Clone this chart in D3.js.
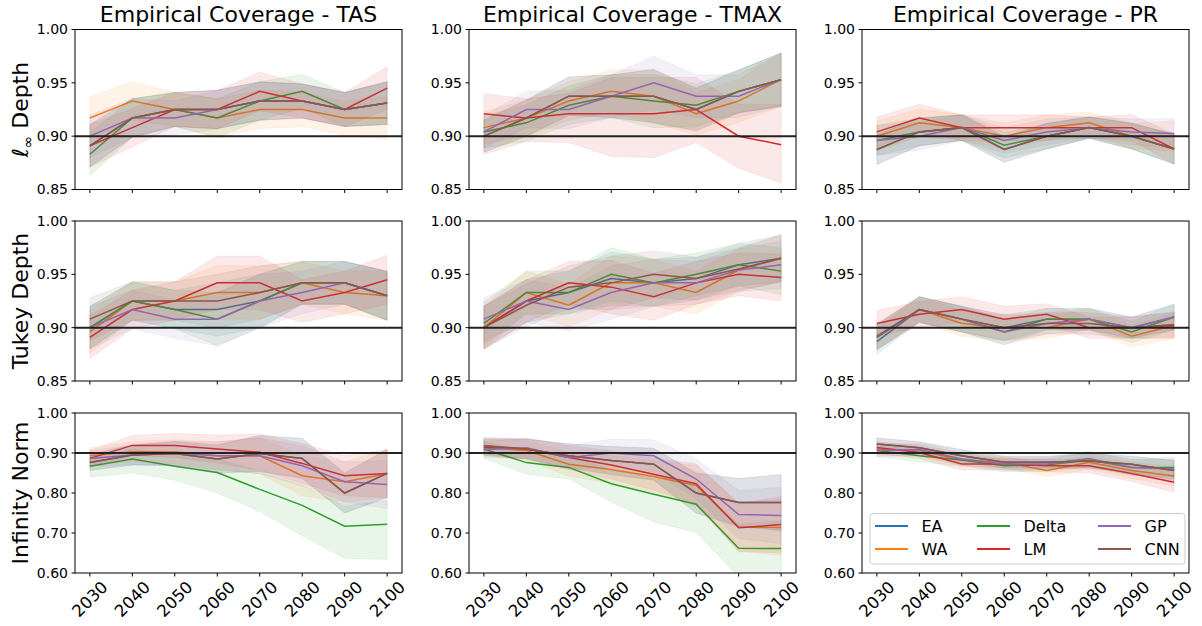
<!DOCTYPE html>
<html>
<head>
<meta charset="utf-8">
<script src="https://cdn.jsdelivr.net/npm/d3@7"></script>
<style>
	body { margin: 0; background: #fff; }
	text { font-family: "DejaVu Sans", sans-serif; fill: #000; }
</style>
</head>
<body>
<div id="chart"></div>
<script>
var years = [2030, 2040, 2050, 2060, 2070, 2080, 2090, 2100];
var methods = ["EA", "WA", "Delta", "LM", "GP", "CNN"];
var colors = ["#1f77b4", "#ff7f0e", "#2ca02c", "#d62728", "#9467bd", "#8c564b"];
var variables = ["TAS", "TMAX", "PR"];
var measures = ["linf", "tukey", "inf"];
var target = 0.90;

var ticksDepth = [0.85, 0.90, 0.95, 1.00];
var ticksNorm = [0.60, 0.70, 0.80, 0.90, 1.00];

// mean coverage, one row per method (EA, WA, Delta, LM, GP, CNN)
var linf_TAS = [
	[.891, .917, .925, .925, .933, .933, .925, .931],
	[.917, .933, .925, .917, .925, .925, .917, .917],
	[.883, .917, .925, .917, .933, .942, .925, .931],
	[.891, .908, .925, .925, .942, .933, .925, .945],
	[.900, .917, .917, .925, .933, .933, .925, .931],
	[.891, .917, .925, .925, .933, .933, .925, .931]
];
var linf_TMAX = [
	[.900, .917, .9375, .9375, .9375, .925, .942, .953],
	[.908, .917, .933, .942, .9375, .921, .933, .953],
	[.904, .9125, .929, .9375, .933, .929, .942, .953],
	[.921, .917, .921, .921, .921, .925, .900, .892],
	[.904, .925, .925, .9375, .950, .9375, .9375, .953],
	[.900, .917, .9375, .9375, .9375, .925, .942, .953]
];
var linf_PR = [
	[.8875, .904, .908, .8875, .900, .908, .900, .888],
	[.900, .9125, .908, .900, .908, .9125, .900, .900],
	[.896, .904, .908, .8915, .900, .908, .900, .888],
	[.904, .917, .908, .908, .908, .908, .908, .888],
	[.896, .900, .908, .896, .904, .908, .904, .9025],
	[.8875, .904, .908, .8875, .900, .908, .900, .888]
];
var tukey_TAS = [
	[.900, .925, .917, .917, .925, .942, .942, .930],
	[.896, .925, .925, .933, .933, .942, .933, .930],
	[.900, .925, .917, .908, .925, .942, .942, .930],
	[.891, .917, .925, .942, .942, .925, .933, .945],
	[.900, .917, .908, .908, .925, .933, .942, .930],
	[.908, .925, .925, .925, .933, .942, .942, .930]
];
var tukey_TMAX = [
	[.900, .925, .933, .946, .942, .946, .959, .965],
	[.900, .933, .921, .942, .942, .933, .954, .965],
	[.904, .933, .933, .950, .942, .950, .959, .953],
	[.900, .925, .942, .938, .929, .942, .950, .947],
	[.908, .925, .917, .933, .942, .942, .954, .959],
	[.900, .921, .938, .942, .950, .946, .955, .965]
];
var tukey_PR = [
	[.887, .917, .908, .900, .908, .908, .900, .910],
	[.891, .917, .904, .900, .900, .908, .892, .902],
	[.891, .917, .908, .896, .908, .908, .896, .910],
	[.904, .9125, .917, .908, .9125, .900, .900, .902],
	[.891, .917, .908, .896, .904, .908, .900, .910],
	[.892, .917, .908, .900, .904, .904, .900, .903]
];
var inf_TAS = [
	[.8765, .895, .899, .885, .899, .8865, .800, .849],
	[.893, .903, .903, .893, .893, .843, .828, .848],
	[.867, .885, .867, .851, .809, .769, .717, .722],
	[.8865, .919, .919, .910, .902, .874, .843, .849],
	[.8865, .895, .899, .893, .893, .868, .828, .821],
	[.8765, .895, .899, .885, .899, .8865, .800, .849]
];
var inf_TMAX = [
	[.918, .910, .893, .881, .872, .800, .776, .776],
	[.914, .906, .872, .859, .841, .819, .715, .714],
	[.910, .876, .864, .823, .797, .772, .662, .661],
	[.914, .910, .889, .870, .847, .823, .713, .721],
	[.909, .913, .889, .900, .893, .835, .746, .744],
	[.918, .910, .893, .881, .872, .800, .776, .776]
];
var inf_PR = [
	[.9225, .913, .893, .877, .877, .880, .872, .856],
	[.910, .906, .8825, .877, .856, .877, .856, .8425],
	[.906, .893, .8825, .868, .870, .8825, .864, .864],
	[.914, .901, .8725, .8725, .868, .868, .849, .827],
	[.906, .909, .885, .8725, .8725, .8865, .864, .860],
	[.9225, .913, .893, .877, .877, .880, .872, .856]
];

// half width of the shaded bands, per panel and year
var spread_linf_TAS = [.020, .018, .016, .018, .018, .016, .016, .020];
var spread_linf_TMAX = [.015, .017, .018, .020, .025, .020, .020, .025];
var spread_linf_PR = [.014, .013, .012, .012, .012, .010, .012, .014];
var spread_tukey_TAS = [.020, .018, .018, .025, .025, .020, .020, .023];
var spread_tukey_TMAX = [.020, .020, .020, .025, .022, .020, .020, .022];
var spread_tukey_PR = [.012, .012, .012, .012, .010, .010, .010, .012];
var spread_inf_TAS = [.020, .025, .030, .035, .045, .050, .050, .060];
var spread_inf_TMAX = [.020, .025, .030, .035, .040, .050, .060, .070];
var spread_inf_PR = [.015, .015, .015, .015, .015, .018, .020, .025];

// bands that stand out from the rest
var lmLinfTMAX_lo = [.883, .895, .894, .881, .880, .894, .870, .856];
var lmLinfTMAX_hi = [.940, .935, .940, .955, .955, .955, .930, .930];
var deltaInfTAS_lo = [.840, .850, .832, .800, .754, .693, .636, .634];
var deltaInfTMAX_lo = [.887, .847, .835, .778, .727, .702, .590, .590];

var means = {
	linf: { TAS: linf_TAS, TMAX: linf_TMAX, PR: linf_PR },
	tukey: { TAS: tukey_TAS, TMAX: tukey_TMAX, PR: tukey_PR },
	inf: { TAS: inf_TAS, TMAX: inf_TMAX, PR: inf_PR }
};
var spreads = {
	linf: { TAS: spread_linf_TAS, TMAX: spread_linf_TMAX, PR: spread_linf_PR },
	tukey: { TAS: spread_tukey_TAS, TMAX: spread_tukey_TMAX, PR: spread_tukey_PR },
	inf: { TAS: spread_inf_TAS, TMAX: spread_inf_TMAX, PR: spread_inf_PR }
};
var overrides = [
	{ measure: "linf", variable: "TMAX", method: 3, lo: lmLinfTMAX_lo, hi: lmLinfTMAX_hi },
	{ measure: "inf", variable: "TAS", method: 2, lo: deltaInfTAS_lo },
	{ measure: "inf", variable: "TMAX", method: 2, lo: deltaInfTMAX_lo }
];

var colLeft = [75, 469, 862],
	rowTop = [29.5, 221, 413],
	panelW = 327,
	panelH = 160;

var svg = d3.select("#chart").append("svg")
	.attr("width", 1202)
	.attr("height", 626);

measures.forEach(function ( measure, r ) {
	variables.forEach(function ( variable, c ) {
		var g = svg.append("g")
			.attr("transform", "translate(" + colLeft[c] + "," + rowTop[r] + ")");

		var xScale = d3.scaleLinear()
			.domain([2026.5, 2103.5])
			.range([0, panelW]);
		var yScale = d3.scaleLinear()
			.domain(measure === "inf" ? [0.60, 1.00] : [0.85, 1.00])
			.range([panelH, 0]);
		var ticks = measure === "inf" ? ticksNorm : ticksDepth;

		var clipId = "clip-" + r + "-" + c;
		g.append("clipPath").attr("id", clipId)
			.append("rect").attr("width", panelW).attr("height", panelH);

		var plot = g.append("g").attr("clip-path", "url(#" + clipId + ")");

		var line = d3.line()
			.x(function ( d, i ) { return xScale(years[i]); })
			.y(function ( d ) { return yScale(d); });

		var data = means[measure][variable];
		var spread = spreads[measure][variable];

		data.forEach(function ( series, m ) {
			var lo = series.map(function ( v, i ) { return v - spread[i]; });
			var hi = series.map(function ( v, i ) { return v + spread[i]; });
			overrides.forEach(function ( o ) {
				if ( o.measure === measure && o.variable === variable && o.method === m ) {
					if ( o.lo ) lo = o.lo;
					if ( o.hi ) hi = o.hi;
				}
			});

			var area = d3.area()
				.x(function ( d, i ) { return xScale(years[i]); })
				.y0(function ( d, i ) { return yScale(lo[i]); })
				.y1(function ( d, i ) { return yScale(hi[i]); });

			plot.append("path")
				.datum(series)
				.attr("d", line)
				.attr("fill", "none")
				.attr("stroke", colors[m])
				.attr("stroke-width", 1.5);

			plot.append("path")
				.datum(series)
				.attr("d", area)
				.attr("fill", colors[m])
				.attr("fill-opacity", 0.1)
				.attr("stroke", colors[m])
				.attr("stroke-opacity", 0.08)
				.attr("stroke-width", 1);
		});

		// nominal level
		plot.append("line")
			.attr("x1", 0).attr("x2", panelW)
			.attr("y1", yScale(target)).attr("y2", yScale(target))
			.attr("stroke", "#222")
			.attr("stroke-width", 2);

		// y axis
		var yAxis = g.append("g");
		ticks.forEach(function ( t ) {
			yAxis.append("line")
				.attr("x1", -3.5).attr("x2", 0)
				.attr("y1", yScale(t)).attr("y2", yScale(t))
				.attr("stroke", "#000");
			yAxis.append("text")
				.attr("x", -7)
				.attr("y", yScale(t))
				.attr("dy", "0.35em")
				.attr("text-anchor", "end")
				.style("font-size", "14px")
				.text(d3.format(".2f")(t));
		});

		// x axis
		var xAxis = g.append("g").attr("transform", "translate(0," + panelH + ")");
		years.forEach(function ( yr ) {
			xAxis.append("line")
				.attr("x1", xScale(yr)).attr("x2", xScale(yr))
				.attr("y1", 0).attr("y2", 3.5)
				.attr("stroke", "#000");
			if ( r === measures.length - 1 ) {
				xAxis.append("text")
					.attr("transform", "translate(" + xScale(yr) + ",26) rotate(-45)")
					.attr("text-anchor", "middle")
					.attr("dy", "0.35em")
					.style("font-size", "16.5px")
					.text(yr);
			}
		});

		// frame
		g.append("rect")
			.attr("width", panelW)
			.attr("height", panelH)
			.attr("fill", "none")
			.attr("stroke", "#000")
			.attr("stroke-width", 1);

		if ( r === 0 ) {
			g.append("text")
				.attr("x", panelW / 2)
				.attr("y", -8)
				.attr("text-anchor", "middle")
				.style("font-size", "22px")
				.text("Empirical Coverage - " + variable);
		}

		if ( c === 0 ) {
			var label = g.append("text")
				.attr("transform", "translate(" + (28 - colLeft[0]) + "," + (panelH / 2) + ")rotate(-90)")
				.attr("text-anchor", "middle")
				.style("font-size", "22px");
			if ( measure === "linf" ) {
				label.append("tspan").style("font-style", "italic").text("ℓ");
				label.append("tspan").attr("dy", 5).style("font-size", "15px").text("∞");
				label.append("tspan").attr("dy", -5).text(" Depth");
			} else if ( measure === "tukey" ) {
				label.text("Tukey Depth");
			} else {
				label.text("Infinity Norm");
			}
		}

		// legend sits in the last panel
		if ( r === 2 && c === 2 ) {
			var legend = g.append("g").attr("transform", "translate(8,100.5)");
			legend.append("rect")
				.attr("width", 315)
				.attr("height", 50.5)
				.attr("rx", 3)
				.attr("fill", "#fff")
				.attr("fill-opacity", 0.8)
				.attr("stroke", "#ccc");
			var colX = [5, 107, 228];
			methods.forEach(function ( name, m ) {
				var cx = colX[Math.floor(m / 2)],
					cy = m % 2 === 0 ? 12.5 : 35.5;
				legend.append("line")
					.attr("x1", cx).attr("x2", cx + 33)
					.attr("y1", cy).attr("y2", cy)
					.attr("stroke", colors[m])
					.attr("stroke-width", 2);
				legend.append("text")
					.attr("x", cx + 46.5)
					.attr("y", cy)
					.attr("dy", "0.35em")
					.style("font-size", "16px")
					.text(name);
			});
		}
	});
});
</script>
</body>
</html>
